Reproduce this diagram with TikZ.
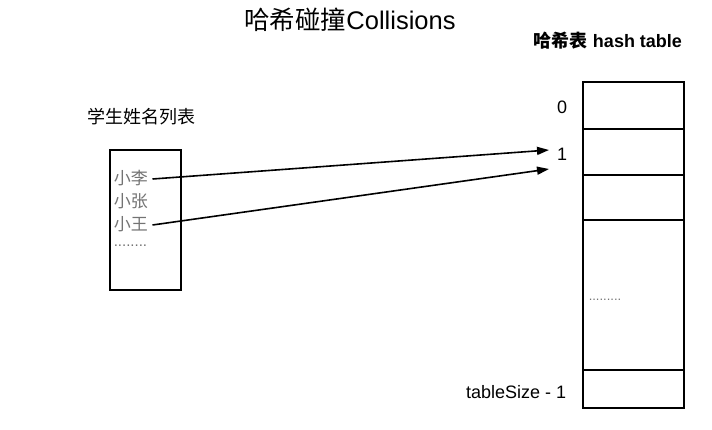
\documentclass[tikz,border=0pt]{standalone}
\usepackage{fontspec}
\setmainfont{Liberation Sans}
\newfontfamily\cjk{Noto Sans CJK SC}
\usetikzlibrary{arrows.meta,positioning}

\begin{document}
\begin{tikzpicture}[x=1pt, y=-1pt, line width=1.5pt,
  slot/.style={draw, minimum width=101pt, inner sep=0pt, outer sep=0pt, anchor=north west},
  student/.style={anchor=west, inner sep=0pt, text=black!55, font=\fontsize{17}{17}\selectfont\cjk},
  idx/.style={inner sep=0pt, font=\fontsize{18}{18}\selectfont},
  hasharrow/.style={-{Triangle[length=12pt, width=8pt]}, line width=1.6pt}]
  \useasboundingbox (0,0) rectangle (712,429);
  % titles
  \node[inner sep=0pt, font=\fontsize{25.5}{25.5}\selectfont] (title) at (350,20) {{\cjk 哈希碰撞}Collisions};
  \node[inner sep=0pt, font=\fontsize{18}{18}\selectfont\bfseries] (tabletitle) at (608,41) {{\cjk 哈希表} hash table};
  \node[inner sep=0pt, font=\fontsize{18}{18}\selectfont\cjk] (listtitle) at (141,117) {学生姓名列表};
  % student list
  \draw (110,150) rectangle (181,290);
  \node[student] (li) at (113,178) {小李};
  \node[student] (zhang) at (113,201) {小张};
  \node[student] (wang) at (113,224) {小王};
  \node[student, font=\fontsize{15}{15}\selectfont] (more) at (113,246) {........};
  % hash table
  \node[slot, minimum height=47pt] (s0) at (583,82) {};
  \node[slot, minimum height=46pt, below=0pt of s0.south west, anchor=north west] (s1) {};
  \node[slot, minimum height=45pt, below=0pt of s1.south west, anchor=north west] (s2) {};
  \node[slot, minimum height=150pt, below=0pt of s2.south west, anchor=north west] (s3) {};
  \node[slot, minimum height=38pt, below=0pt of s3.south west, anchor=north west] (s4) {};
  \node[anchor=west, inner sep=0pt, text=black!55, font=\fontsize{13}{13}\selectfont] (dots) at (588,300) {.........};
  \node[idx] (i0) at (562,107) {0};
  \node[idx] (i1) at (562,154) {1};
  \node[idx, anchor=east] (ilast) at (567,392) {tableSize - 1};
  % collisions
  \coordinate (hit1) at (549,150);
  \coordinate (hit2) at (549,169);
  \draw[hasharrow] (li.east) ++(4,1) -- (hit1);
  \draw[hasharrow] (wang.east) ++(4,1) -- (hit2);
\end{tikzpicture}
\end{document}
